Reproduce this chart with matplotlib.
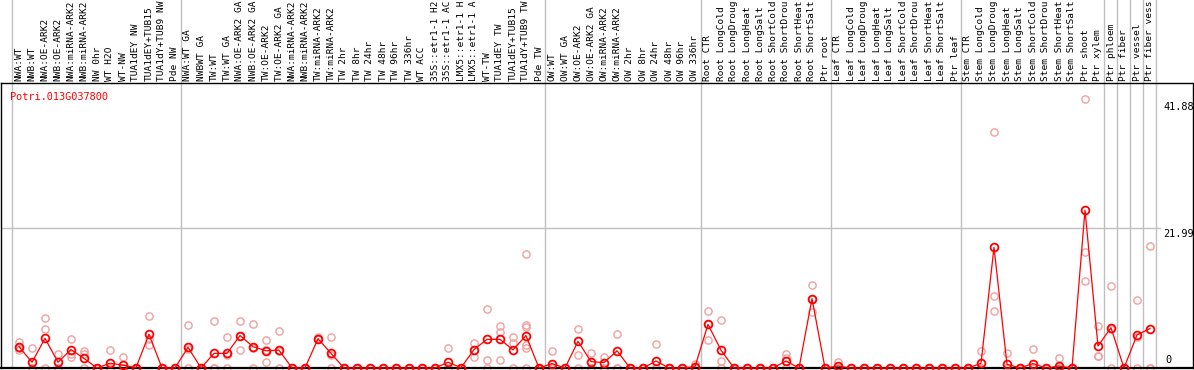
import matplotlib.pyplot as plt

# Rótulos das amostras (truncados como no original)
labels = [
    "NWA:WT", "NWB:WT", "NWA:OE-ARK2", "NWB:OE-ARK2", "NWA:miRNA-ARK2", "NWB:miRNA-ARK2",
    "NW 0hr", "WT H2O", "WT-NW", "TUA1dEY NW", "TUA1dEY+TUB15", "TUA1dY+TUB9 NW", "Pde NW",
    "NWA:WT GA", "NWBWT GA", "TW:WT", "TW:WT GA", "NWA:OE-ARK2 GA", "NWB:OE-ARK2 GA",
    "TW:OE-ARK2", "TW:OE-ARK2 GA", "NWA:miRNA-ARK2", "NWB:miRNA-ARK2", "TW:miRNA-ARK2",
    "TW:miRNA-ARK2", "TW 2hr", "TW 8hr", "TW 24hr", "TW 48hr", "TW 96hr", "TW 336hr",
    "WT ACC", "35S::etr1-1 H2", "35S::etr1-1 AC", "LMX5::etr1-1 H", "LMX5::etr1-1 A",
    "WT-TW", "TUA1dEY TW", "TUA1dEY+TUB15", "TUA1dY+TUB9 TW", "Pde TW",
    "OW:WT", "OW:WT GA", "OW:OE-ARK2", "OW:OE-ARK2 GA", "OW:miRNA-ARK2", "OW:miRNA-ARK2",
    "OW 2hr", "OW 8hr", "OW 24hr", "OW 48hr", "OW 96hr", "OW 336hr",
    "Root CTR", "Root LongCold", "Root LongDroug", "Root LongHeat", "Root LongSalt",
    "Root ShortCold", "Root ShortDrou", "Root ShortHeat", "Root ShortSalt", "Ptr root",
    "Leaf CTR", "Leaf LongCold", "Leaf LongDroug", "Leaf LongHeat", "Leaf LongSalt",
    "Leaf ShortCold", "Leaf ShortDrou", "Leaf ShortHeat", "Leaf ShortSalt", "Ptr leaf",
    "Stem CTR", "Stem LongCold", "Stem LongDroug", "Stem LongHeat", "Stem LongSalt",
    "Stem ShortCold", "Stem ShortDrou", "Stem ShortHeat", "Stem ShortSalt", "Ptr shoot",
    "Ptr xylem", "Ptr phloem", "Ptr fiber", "Ptr vessel", "Ptr fiber vess",
]

# Média de expressão por amostra
medias = [
    3.35, 0.9, 4.66, 0.9, 2.9, 1.5, 0, 0.75, 0.45, 0.05, 5.3, 0, 0,
    3.25, 0, 2.3, 2.3, 5.1, 3.35, 2.7, 2.8, 0, 0, 4.6, 2.3, 0, 0, 0, 0, 0, 0,
    0, 0, 0.9, 0.05, 2.9, 4.5, 4.5, 2.85, 5.1, 0,
    0.7, 0, 4.2, 1.0, 0.85, 2.7, 0, 0, 1.1, 0, 0, 0.2,
    6.85, 2.8, 0, 0, 0, 0, 1.1, 0, 10.9, 0,
    0.3, 0, 0, 0, 0, 0, 0, 0, 0, 0,
    0, 0.73, 18.95, 0.58, 0, 0.7, 0, 0.3, 0, 24.8,
    3.45, 6.33, 0, 5.2, 6.2,
]

# Réplicas (pontos claros)
replicas = [
    [4.1, 2.8, 3.2], [3.1, 0, 0], [7.8, 6.2, 0], [2.2, 0, 0], [4.5, 2.2, 1.8],
    [2.7, 2.2, 0], [0, 0, 0], [2.8, 0, 0], [1.7, 0, 0], [0, 0, 0],
    [8.2, 4.5, 3.6], [0, 0, 0], [0, 0, 0],
    [6.7, 3.0, 0], [0, 0, 0], [7.4, 0, 0], [4.8, 2.0, 0], [7.4, 5.1, 2.8],
    [6.9, 3.2, 0], [4.4, 2.8, 0.9], [5.8, 2.6, 0], [0, 0, 0], [0, 0, 0],
    [4.8, 4.5, 4.5], [4.8, 2.1, 0], [0, 0, 0], [0, 0, 0], [0, 0, 0], [0, 0, 0],
    [0, 0, 0], [0, 0, 0], [0, 0, 0], [0, 0, 0], [3.1, 0, 0], [0, 0, 0],
    [4.0, 2.9, 1.8], [9.2, 1.25, 0], [6.6, 5.7, 1.25], [4.9, 4.0, 0],
    [17.9, 6.7, 6.5, 3.6, 3.1, 0], [0, 0, 0],
    [2.7, 0, 0], [0, 0, 0], [6.2, 2.0, 0], [2.3, 0, 0], [1.8, 0, 0], [5.4, 0, 0],
    [0, 0, 0], [0, 0, 0], [3.7, 0, 0], [0, 0, 0], [0, 0, 0], [0.6, 0, 0],
    [8.9, 4.4, 6.85], [7.6, 1.1, 0], [0, 0, 0], [0, 0, 0], [0, 0, 0], [0, 0, 0],
    [2.2, 1.6, 0], [0, 0, 0], [13.1, 8.8, 10.9], [0, 0, 0],
    [1.0, 0, 0], [0, 0, 0], [0, 0, 0], [0, 0, 0], [0, 0, 0], [0, 0, 0],
    [0, 0, 0], [0, 0, 0], [0, 0, 0], [0, 0, 0],
    [0, 0, 0], [2.7, 0, 0], [37.0, 11.3, 8.95], [2.3, 0, 0], [0, 0, 0],
    [3.0, 0, 0], [0, 0, 0], [1.6, 0, 0], [0, 0, 0], [42.3, 18.3, 13.7],
    [6.6, 1.9, 1.85], [12.9, 6.1, 0], [0, 0, 0], [10.7, 4.9, 0], [19.2, 0, 0],
]

# Divisões entre grupos (depois da amostra de índice)
divisoes = [-1, 12, 40, 52, 62, 72, 83, 84, 85, 86, 87]

gene = "Potri.013G037800"
marcas = [0, 21.99, 41.88]

W, H = 1194, 370
fig = plt.figure(figsize=(W / 100, H / 100), dpi=100)
ax = fig.add_axes([1 / W, 2 / H, 1192 / W, 285 / H])

escala = 285 / 44.77
ax.set_xlim((1 - 19) / 13, (1193 - 19) / 13)
ax.set_ylim(0, 44.77)
ax.set_xticks([])
ax.set_yticks([])
for s in ax.spines.values():
    s.set_color("black")
    s.set_linewidth(1.0)
ax.spines["bottom"].set_linewidth(1.6)

# Linhas verticais cinzas (atravessam o cabeçalho)
topo = 368 / escala
for d in divisoes:
    ax.plot([d + 0.45, d + 0.45], [0, topo], color="#c0c0c0", lw=1.0,
            clip_on=False, zorder=1)

# Linha de grade em 21.99
ax.plot([-1.385, (1160 - 19) / 13], [21.99, 21.99], color="#c0c0c0", lw=1.0, zorder=1)

x = list(range(len(labels)))

# Réplicas
for i, reps in enumerate(replicas):
    ax.plot([i] * len(reps), reps, "o", mfc="none", mec="#f0a0a0", ms=5.2,
            mew=1.0, clip_on=False, zorder=2)

# Médias
ax.plot(x, medias, "-", color="red", lw=0.9, zorder=3, clip_on=False)
ax.plot(x, medias, "o", mfc="none", mec="red", ms=5.6, mew=1.3,
        clip_on=False, zorder=4)

# Rótulos das amostras (verticais)
for i, lab in enumerate(labels):
    fig.text((19 + 13 * i) / W, (H - 81) / H, lab, rotation=90, ha="center",
             va="bottom", family="DejaVu Sans Mono", fontsize=6.8, color="black")

# Nome do gene
fig.text(10 / W, (H - 97) / H, gene, ha="left", va="center",
         family="DejaVu Sans Mono", fontsize=7.4, color="red")

# Rótulos do eixo y (à direita)
for m in marcas[1:]:
    ax.text((1163 - 19) / 13, m - 0.1, f"{m:.2f}", ha="left", va="top",
            family="DejaVu Sans Mono", fontsize=7.4, color="black")
ax.text((1165 - 19) / 13, 0.4, "0", ha="left", va="bottom",
        family="DejaVu Sans Mono", fontsize=7.4, color="black")

fig.savefig("out.png", dpi=100)
